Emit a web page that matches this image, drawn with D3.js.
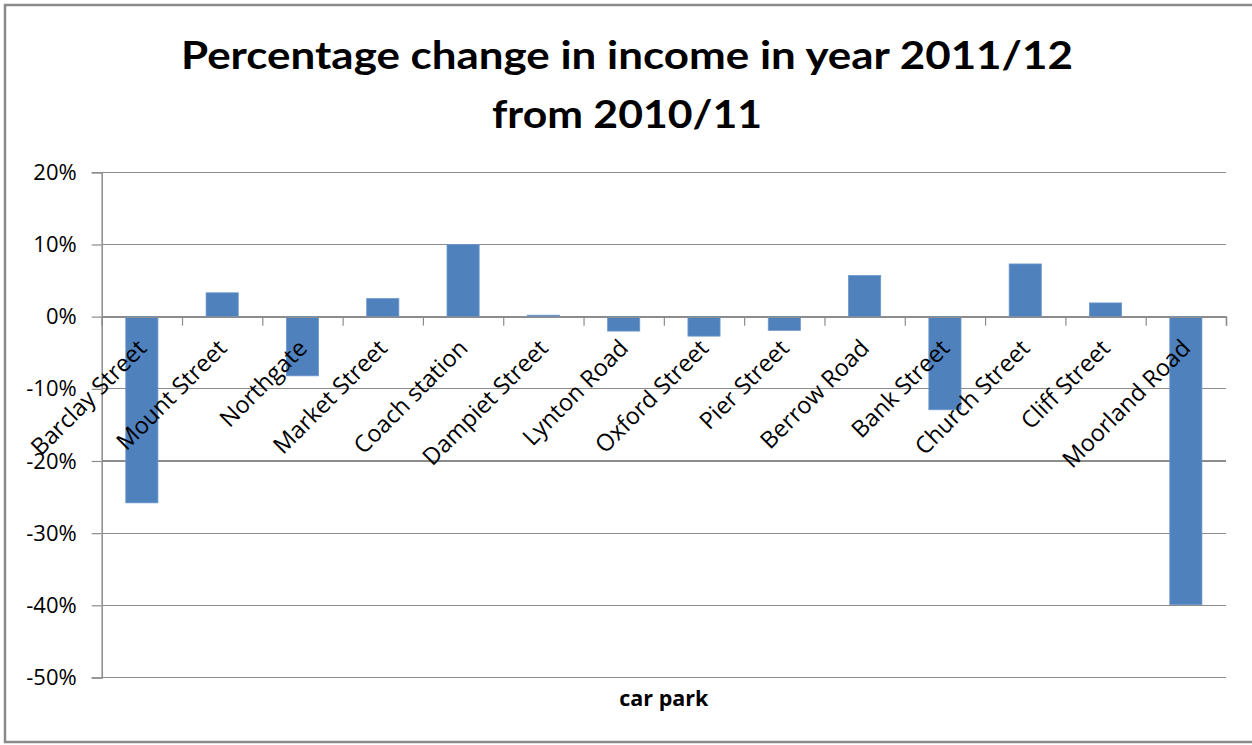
<!DOCTYPE html>
<html>
<head>
<meta charset="utf-8">
<script src="https://cdn.jsdelivr.net/npm/d3@7/dist/d3.min.js"></script>
<style>
  html, body { margin: 0; padding: 0; background: #fff; }
  svg { display: block; }
</style>
</head>
<body>
<svg id="chart" width="1252" height="745"></svg>
<script>
// Car parks, in display order
const categories = [
  "Barclay Street", "Mount Street", "Northgate", "Market Street", "Coach station",
  "Dampiet Street", "Lynton Road", "Oxford Street", "Pier Street", "Berrow Road",
  "Bank Street", "Church Street", "Cliff Street", "Moorland Road"
];
// Percentage change in income, 2011/12 vs 2010/11
const values = [-25.8, 3.3, -8.2, 2.5, 10.0, 0.2, -2.0, -2.7, -1.9, 5.7, -12.9, 7.3, 1.9, -39.9];
// Value axis ticks (percent)
const yTicks = [20, 10, 0, -10, -20, -30, -40, -50];
const titleLines = ["Percentage change in income in year 2011/12", "from 2010/11"];
const xTitle = "car park";

const svg = d3.select("#chart");
const plot = { left: 101.7, right: 1226, top: 172.3, bottom: 677.5 };

const x = d3.scaleBand()
  .domain(categories)
  .range([plot.left, plot.right])
  .paddingInner(0.6)
  .paddingOuter(0.3);

const y = d3.scaleLinear()
  .domain([d3.min(yTicks), d3.max(yTicks)])
  .range([plot.bottom, plot.top]);

// category boundaries for the tick marks on the category axis
const xb = d3.scaleLinear().domain([0, categories.length]).range([plot.left, plot.right]);

const grey = "#8c8c8c";

// outer chart frame
svg.append("rect")
  .attr("x", 5).attr("y", 5)
  .attr("width", 1270).attr("height", 737)
  .attr("fill", "none")
  .attr("stroke", "#8a8a8a")
  .attr("stroke-width", 2.5);

// title
svg.append("g").selectAll("text")
  .data(titleLines)
  .join("text")
  .attr("x", 627)
  .attr("y", (d, i) => 69 + i * 59)
  .attr("text-anchor", "middle")
  .attr("font-family", "Lato, 'Open Sans', sans-serif")
  .attr("font-weight", "bold")
  .attr("font-size", 39)
  .attr("fill", "#000")
  .attr("textLength", (d, i) => i === 0 ? 892 : 270)
  .attr("lengthAdjust", "spacingAndGlyphs")
  .text(d => d);

// horizontal gridlines
svg.append("g")
  .selectAll("line")
  .data(yTicks)
  .join("line")
  .attr("x1", plot.left).attr("x2", plot.right)
  .attr("y1", d => y(d)).attr("y2", d => y(d))
  .attr("stroke", grey)
  .attr("stroke-width", 1.2)
  .attr("shape-rendering", "crispEdges");

// bars
svg.append("g")
  .selectAll("rect")
  .data(values)
  .join("rect")
  .attr("x", (d, i) => x(categories[i]))
  .attr("width", x.bandwidth())
  .attr("y", d => y(Math.max(0, d)))
  .attr("height", d => Math.abs(y(d) - y(0)))
  .attr("fill", "#4f81bd")
  .attr("stroke", "#6a96cc")
  .attr("stroke-width", 0.8);

// value axis
const yAxis = svg.append("g")
  .attr("transform", `translate(${plot.left},0)`)
  .call(d3.axisLeft(y)
    .tickValues(yTicks)
    .tickSize(10)
    .tickPadding(15)
    .tickFormat(d => d + "%"));
yAxis.select(".domain").attr("stroke", grey).attr("stroke-width", 1.5);
yAxis.selectAll(".tick line").attr("stroke", grey).attr("stroke-width", 1.2);
yAxis.selectAll(".tick text")
  .attr("font-family", "'Open Sans', sans-serif")
  .attr("font-size", 22)
  .attr("fill", "#000");

// category axis along zero
const xAxis = svg.append("g")
  .attr("transform", `translate(0,${y(0)})`)
  .call(d3.axisBottom(xb)
    .tickValues(d3.range(1, categories.length + 1))
    .tickSize(9)
    .tickFormat(""));
xAxis.select(".domain").attr("stroke", grey).attr("stroke-width", 1.5);
xAxis.selectAll(".tick line").attr("stroke", grey).attr("stroke-width", 1.2);

// rotated category labels
svg.append("g")
  .selectAll("text")
  .data(categories)
  .join("text")
  .attr("transform", d => `translate(${x(d) + x.bandwidth() / 2 + 6},${y(0) + 33}) rotate(-45)`)
  .attr("text-anchor", "end")
  .attr("font-family", "'Open Sans', sans-serif")
  .attr("font-size", 23.5)
  .attr("fill", "#000")
  .text(d => d);

// category axis title
svg.append("text")
  .attr("x", (plot.left + plot.right) / 2)
  .attr("y", 706)
  .attr("text-anchor", "middle")
  .attr("font-family", "'Open Sans', sans-serif")
  .attr("font-weight", "bold")
  .attr("font-size", 21.5)
  .attr("fill", "#000")
  .text(xTitle);
</script>
</body>
</html>
